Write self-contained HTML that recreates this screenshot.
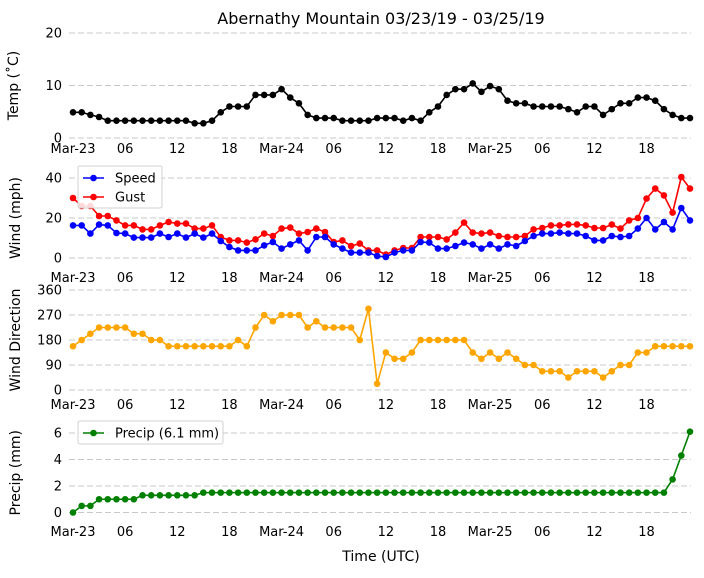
<!DOCTYPE html>
<html><head><meta charset="utf-8"><style>
body{margin:0;background:#fff;font-family:"Liberation Sans","DejaVu Sans",sans-serif}
svg text{font-family:"DejaVu Sans","Liberation Sans",sans-serif}
</style></head><body>
<svg id="c" width="704" height="573"></svg>
<script>
const hours = Array.from({length:72},(_,i)=>i);
const temp=[4.9,4.9,4.4,4.0,3.3,3.3,3.3,3.3,3.3,3.3,3.3,3.3,3.3,3.3,2.8,2.8,3.3,4.9,6.0,6.0,6.0,8.2,8.2,8.2,9.3,7.7,6.6,4.4,3.8,3.8,3.8,3.3,3.3,3.3,3.3,3.8,3.8,3.8,3.3,3.8,3.3,4.9,6.0,8.2,9.3,9.3,10.4,8.8,9.9,9.3,7.1,6.6,6.6,6.0,6.0,6.0,6.0,5.5,4.9,6.0,6.0,4.4,5.5,6.6,6.6,7.7,7.7,7.1,5.5,4.4,3.8,3.8];
const speed=[16.3,16.3,12.2,16.7,16.3,12.5,12.2,10.2,10.2,10.2,12.2,10.5,12.2,10.2,12.2,10.2,12.2,8.5,5.5,3.8,3.8,3.8,6.3,8,4.7,6.8,8.8,3.8,10.5,10.5,6.8,4.7,2.7,2.7,2.7,1.0,
0.5,2.7,3.8,3.8,8,7.7,4.7,4.7,6,7.7,6.8,4.7,6.8,4.7,6.8,6,8.5,11,12.2,12.2,12.7,12.2,12.2,11,8.8,8.8,11,10.5,11,14.7,20,14.3,18,14.3,25,18.8];
const gust=[30,26,26,21,21,18.8,16.3,16.3,14.3,14.3,16.3,18,17.2,17.2,14.7,14.7,16.3,10.5,8.8,8.8,7.7,9.3,12.2,11,14.7,15.2,12.2,13,14.7,13,8,8.8,6,7.2,3.8,3.8,
1.7,3.8,5,5,10.5,10.5,10.5,9.3,12.7,17.7,12.7,12.2,12.7,11,10.5,10.5,11,14.3,15,16.3,16.3,16.8,16.8,16.3,15,15,16.7,14.7,18.8,20,29.7,34.7,31.3,22.7,40.5,34.7];
const dir=[157.5,180,202.5,225,225,225,225,202.5,202.5,180,180,157.5,157.5,157.5,157.5,157.5,157.5,157.5,157.5,180,157.5,225,270,247.5,270,270,270,225,247.5,225,225,225,225,180,292.5,22.5,
135,112.5,112.5,135,180,180,180,180,180,180,135,112.5,135,112.5,135,112.5,90,90,67.5,67.5,67.5,45,67.5,67.5,67.5,45,67.5,90,90,135,135,157.5,157.5,157.5,157.5,157.5];
const precip=[0,0.5,0.5,1,1,1,1,1,1.3,1.3,1.3,1.3,1.3,1.3,1.3].concat(Array(54).fill(1.5)).concat([2.5,4.3,6.1]);
const xTickHours=[0,6,12,18,24,30,36,42,48,54,60,66];
const xTickLabels=["Mar-23","06","12","18","Mar-24","06","12","18","Mar-25","06","12","18"];

const svg=document.getElementById('c');const NS='http://www.w3.org/2000/svg';
function mk(t,a,p){const e=document.createElementNS(NS,t);for(const k in a)e.setAttribute(k,a[k]);(p||svg).appendChild(e);return e;}
const X=h=>73+h*8.69;
const panels=[
 {name:'temp',y0:138,y1:33,min:0,max:20,ticks:[0,10,20],label:'Temp (˚C)',lx:18,xl:153},
 {name:'wind-speed',y0:258,y1:178,min:0,max:40,ticks:[0,20,40],label:'Wind (mph)',lx:20,xl:282},
 {name:'wind-direction',y0:390,y1:290,min:0,max:360,ticks:[0,90,180,270,360],label:'Wind Direction',lx:20,xl:409},
 {name:'precip',y0:512.5,y1:433,min:0,max:6,ticks:[0,2,4,6],label:'Precip (mm)',lx:20,xl:536}];
panels.forEach(p=>{
 p.Y=v=>p.y0+(v-p.min)/(p.max-p.min)*(p.y1-p.y0);
 const g=mk('g',{});
 
 
 p.ticks.forEach(t=>{
  const l=mk('line',{x1:69,x2:691,y1:p.Y(t),y2:p.Y(t),stroke:'#c8c8c8','stroke-dasharray':'6,3','stroke-width':1},g);
  
  
  const tx=mk('text',{x:62,y:p.Y(t)+4.5,'text-anchor':'end','font-size':13},g);tx.textContent=t;
  
  
 });
 xTickHours.forEach((h,i)=>{
  const tx=mk('text',{x:X(h),y:p.xl,'text-anchor':'middle','font-size':13},g);tx.textContent=xTickLabels[i];
  
  
 });
 const yl=mk('text',{x:0,y:0,'text-anchor':'middle','font-size':14,transform:`translate(${p.lx},${(p.y0+p.y1)/2}) rotate(-90)`},g);
 yl.textContent=p.label;
 
 
});
function series(p,vals,color,name){
 const g=mk('g',{});
 
 
 const pl=mk('polyline',{points:vals.map((v,i)=>X(hours[i])+','+p.Y(v)).join(' '),fill:'none',stroke:color,'stroke-width':1.6},g);
 
 
 vals.forEach((v,i)=>{const c=mk('circle',{cx:X(hours[i]),cy:p.Y(v),r:3.3,fill:color},g);
  
  });
}
series(panels[0],temp,'#000','temp');
series(panels[1],gust,'#ff0000','gust');
series(panels[1],speed,'#0000ff','speed');
series(panels[2],dir,'#ffa500','direction');
series(panels[3],precip,'#008000','precip');
function legend(x,y,w,h,items,name){
 const g=mk('g',{});
 
 
 mk('rect',{x:x,y:y,width:w,height:h,rx:2,fill:'rgba(255,255,255,0.85)',stroke:'#d0d0d0'},g);
 items.forEach((it,i)=>{const yy=y+12+i*19;
  mk('line',{x1:x+5,x2:x+26,y1:yy,y2:yy,stroke:it[1],'stroke-width':1.6},g);
  mk('circle',{cx:x+15.5,cy:yy,r:3.3,fill:it[1]},g);
  const t=mk('text',{x:x+37,y:yy+4.5,'font-size':13},g);t.textContent=it[0];
  
  });
}
legend(78,166,84,42,[['Speed','#0000ff'],['Gust','#ff0000']],'wind-legend');
legend(78,421,145,23,[['Precip (6.1 mm)','#008000']],'precip-legend');
const ti=mk('text',{x:381,y:24,'text-anchor':'middle','font-size':16});ti.textContent='Abernathy Mountain 03/23/19 - 03/25/19';


const xl=mk('text',{x:381,y:561,'text-anchor':'middle','font-size':14});xl.textContent='Time (UTC)';


</script>
</body></html>
